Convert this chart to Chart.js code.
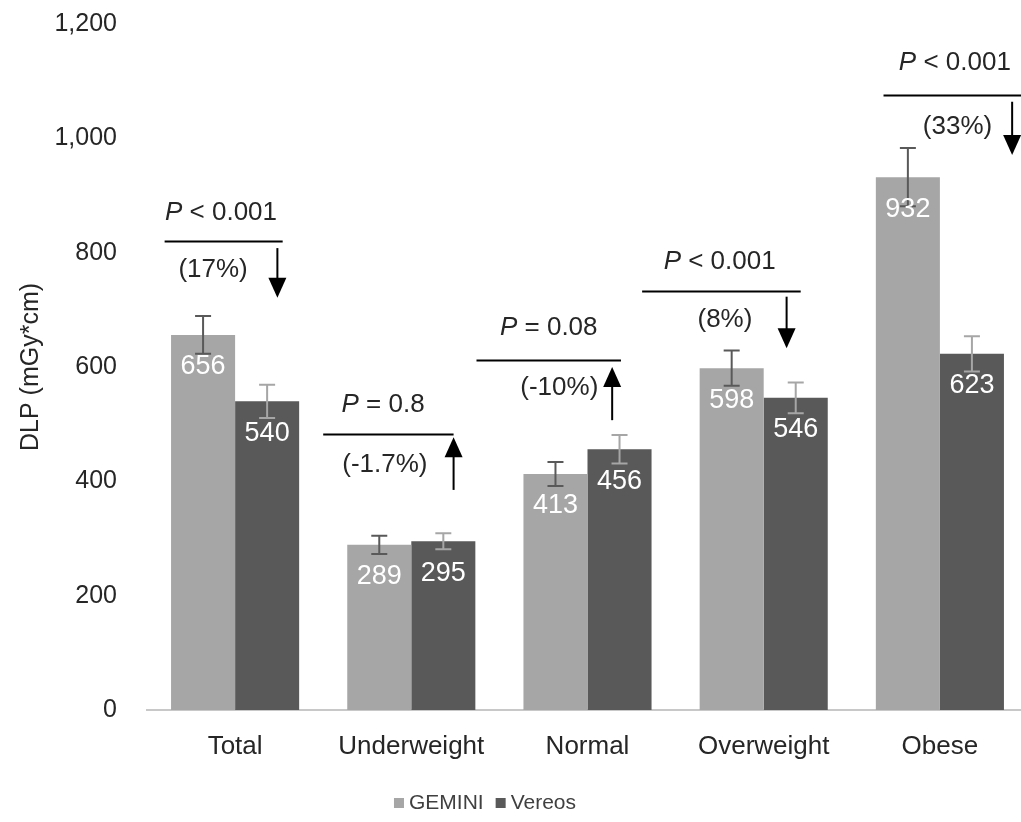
<!DOCTYPE html>
<html>
<head>
<meta charset="utf-8">
<script src="https://cdn.jsdelivr.net/npm/chart.js@4.4.1/dist/chart.umd.min.js"></script>
<style>
  html, body { margin: 0; padding: 0; overflow: hidden; background: #fff; }
  #wrap { width: 1030px; height: 822px; }
</style>
</head>
<body>
<div id="wrap"><canvas id="dlpChart"></canvas></div>
<script>
// Ma'lumotlar
const categories = ['Total', 'Underweight', 'Normal', 'Overweight', 'Obese'];
const seriesNames = ['GEMINI', 'Vereos'];
const geminiValues = [656, 289, 413, 598, 932];
const vereosValues = [540, 295, 456, 546, 623];
const geminiErrors = [33, 16, 21, 31, 51];
const vereosErrors = [29, 14, 25, 27, 31];
const pTexts = ['< 0.001', '= 0.8', '= 0.08', '< 0.001', '< 0.001'];
const changeTexts = ['(17%)', '(-1.7%)', '(-10%)', '(8%)', '(33%)'];
const arrowDirs = ['down', 'up', 'up', 'down', 'down'];
const yTicks = [0, 200, 400, 600, 800, 1000, 1200];

// Izohlar joylashuvi (y - qiymat birligida, x - kategoriya kengligiga nisbatan)
const noteLayout = [
    { lineY: 821, x0: -0.40, x1: 0.27, pX: -0.08, pY: 870, cX: -0.125, cY: 770, aX: 0.24, aFrom: 808, aTo: 721 },
    { lineY: 483, x0: -0.50, x1: 0.24, pX: -0.16, pY: 534, cX: -0.15, cY: 429, aX: 0.24, aFrom: 385, aTo: 477 },
    { lineY: 612, x0: -0.63, x1: 0.19, pX: -0.22, pY: 668, cX: -0.16, cY: 563, aX: 0.14, aFrom: 507, aTo: 600 },
    { lineY: 733, x0: -0.69, x1: 0.21, pX: -0.25, pY: 784, cX: -0.22, cY: 682, aX: 0.13, aFrom: 723, aTo: 633 },
    { lineY: 1076, x0: -0.32, x1: 0.60, pX: 0.085, pY: 1132, cX: 0.10, cY: 1020, aX: 0.41, aFrom: 1064, aTo: 971 }
];

const COLORS = { gemini: '#a6a6a6', vereos: '#595959', text: '#262626' };
const FONT = '"Liberation Sans", Arial, sans-serif';

// Xato chiziqlari, qiymatlar va izohlar
const overlayPlugin = {
    id: 'overlay',
    afterDatasetsDraw(chart) {
        const { ctx, scales: { x, y } } = chart;
        const catW = x.getPixelForValue(1) - x.getPixelForValue(0);
        const errSets = [
            { errs: geminiErrors, vals: geminiValues, color: COLORS.vereos },
            { errs: vereosErrors, vals: vereosValues, color: COLORS.gemini }
        ];

        ctx.save();
        errSets.forEach((set, di) => {
            chart.getDatasetMeta(di).data.forEach((bar, j) => {
                const top = y.getPixelForValue(set.vals[j] + set.errs[j]);
                const bot = y.getPixelForValue(set.vals[j] - set.errs[j]);
                ctx.strokeStyle = set.color;
                ctx.lineWidth = 2;
                ctx.beginPath();
                ctx.moveTo(bar.x, top); ctx.lineTo(bar.x, bot);
                ctx.moveTo(bar.x - 8, top); ctx.lineTo(bar.x + 8, top);
                ctx.moveTo(bar.x - 8, bot); ctx.lineTo(bar.x + 8, bot);
                ctx.stroke();
            });
        });

        // Qiymat yorliqlari
        ctx.fillStyle = '#ffffff';
        ctx.font = '27px ' + FONT;
        ctx.textAlign = 'center';
        ctx.textBaseline = 'middle';
        errSets.forEach((set, di) => {
            chart.getDatasetMeta(di).data.forEach((bar, j) => {
                ctx.fillText(String(set.vals[j]), bar.x, bar.y + 32);
            });
        });

        // P qiymatlari va o'zgarishlar
        noteLayout.forEach((n, j) => {
            const cx = x.getPixelForValue(j);
            ctx.strokeStyle = '#000';
            ctx.fillStyle = '#000';
            ctx.lineWidth = 2;
            ctx.beginPath();
            const ly = Math.round(y.getPixelForValue(n.lineY)) + 0.5;
            ctx.moveTo(cx + n.x0 * catW, ly);
            ctx.lineTo(cx + n.x1 * catW, ly);
            ctx.stroke();

            // P matni
            ctx.fillStyle = COLORS.text;
            ctx.textBaseline = 'middle';
            ctx.textAlign = 'left';
            const italic = 'italic 26px ' + FONT;
            const normal = '26px ' + FONT;
            ctx.font = italic;
            const wP = ctx.measureText('P').width;
            ctx.font = normal;
            const rest = ' ' + pTexts[j];
            const wR = ctx.measureText(rest).width;
            const startX = cx + n.pX * catW - (wP + wR) / 2;
            const py = y.getPixelForValue(n.pY);
            ctx.font = italic;
            ctx.fillText('P', startX, py);
            ctx.font = normal;
            ctx.fillText(rest, startX + wP, py);

            ctx.textAlign = 'center';
            ctx.fillText(changeTexts[j], cx + n.cX * catW, y.getPixelForValue(n.cY));

            // Strelka
            const ax = cx + n.aX * catW;
            const yFrom = y.getPixelForValue(n.aFrom);
            const yTo = y.getPixelForValue(n.aTo);
            const dir = arrowDirs[j] === 'down' ? 1 : -1;
            ctx.strokeStyle = '#000';
            ctx.fillStyle = '#000';
            ctx.beginPath();
            ctx.moveTo(ax, yFrom);
            ctx.lineTo(ax, yTo - dir * 16);
            ctx.stroke();
            ctx.beginPath();
            ctx.moveTo(ax - 9, yTo - dir * 20);
            ctx.lineTo(ax + 9, yTo - dir * 20);
            ctx.lineTo(ax, yTo);
            ctx.closePath();
            ctx.fill();
        });
        ctx.restore();
    },
    afterDraw(chart) {
        // Legenda
        const { ctx } = chart;
        ctx.save();
        ctx.font = '21px ' + FONT;
        ctx.textBaseline = 'middle';
        ctx.textAlign = 'left';
        const colors = [COLORS.gemini, COLORS.vereos];
        const box = 10, gap = 5, itemGap = 12;
        const widths = seriesNames.map(s => box + gap + ctx.measureText(s).width);
        const total = widths.reduce((a, b) => a + b, 0) + itemGap;
        let lx = 485 - total / 2;
        const ly = 803;
        seriesNames.forEach((s, i) => {
            ctx.fillStyle = colors[i];
            ctx.fillRect(lx, ly - box / 2, box, box);
            ctx.fillStyle = '#404040';
            ctx.fillText(s, lx + box + gap, ly);
            lx += widths[i] + itemGap;
        });
        ctx.restore();
    }
};

function createChart() {
    const ctx = document.getElementById('dlpChart').getContext('2d');
    window.dlpChart = new Chart(ctx, {
        type: 'bar',
        data: {
            labels: categories,
            datasets: [
                { label: seriesNames[0], data: geminiValues, backgroundColor: COLORS.gemini },
                { label: seriesNames[1], data: vereosValues, backgroundColor: COLORS.vereos }
            ]
        },
        options: {
            responsive: true,
            maintainAspectRatio: false,
            animation: false,
            datasets: { bar: { categoryPercentage: 0.727, barPercentage: 1.0 } },
            layout: { padding: { top: 24, left: 0, right: 2, bottom: 52 } },
            plugins: { legend: { display: false }, tooltip: { enabled: false } },
            scales: {
                x: {
                    grid: { display: false },
                    border: { display: true, color: '#c8c8c8', width: 2 },
                    ticks: { color: '#262626', font: { family: FONT, size: 26 }, padding: 13 },
                    afterFit(scale) { scale.height = 60; }
                },
                y: {
                    min: 0,
                    max: 1200,
                    grid: { display: false },
                    border: { display: false },
                    afterBuildTicks(scale) { scale.ticks = yTicks.map(v => ({ value: v })); },
                    ticks: {
                        color: '#262626',
                        font: { family: FONT, size: 25 },
                        padding: 22,
                        callback: v => v.toLocaleString('en-US')
                    },
                    title: {
                        display: true,
                        text: 'DLP (mGy*cm)',
                        color: '#262626',
                        font: { family: FONT, size: 25 },
                        padding: { top: 16, bottom: 0 }
                    },
                    afterFit(scale) {
                        scale.width = 147;
                        scale.paddingTop = 0;
                        scale.paddingBottom = 0;
                    }
                }
            }
        },
        plugins: [overlayPlugin]
    });
}

if (typeof document !== 'undefined') {
    document.addEventListener('DOMContentLoaded', createChart);
}
</script>
</body>
</html>
